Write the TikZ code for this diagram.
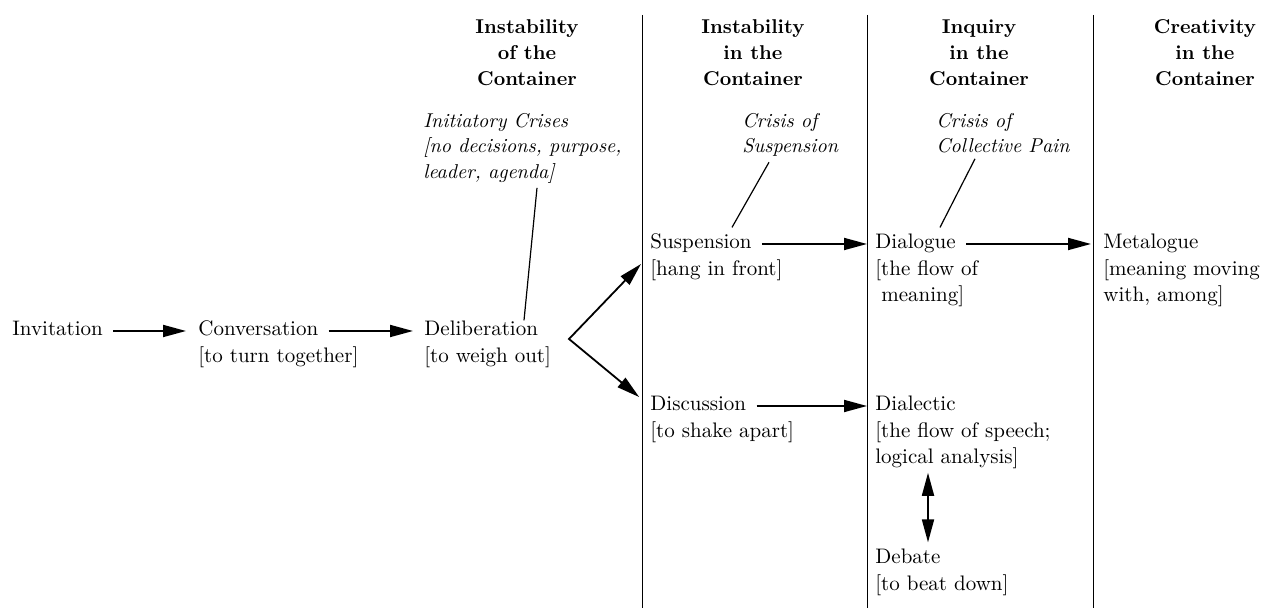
\documentclass[tikz,border=0pt]{standalone}
\usepackage{tikz}
\usetikzlibrary{arrows.meta,positioning}

\begin{document}
\begin{tikzpicture}[x=0.5pt,y=-0.5pt,
    word/.style={anchor=base west, inner sep=0pt, text height=7.6pt, text depth=2.6pt,
      font=\fontsize{10.5}{13}\selectfont},
    gloss/.style={anchor=north west, inner sep=0pt, align=left,
      font=\fontsize{10.5}{13}\selectfont},
    head/.style={anchor=north, inner sep=0pt, align=center,
      font=\fontsize{10}{13}\selectfont\bfseries},
    crisis/.style={anchor=north west, inner sep=0pt, align=left,
      font=\fontsize{10}{12.75}\selectfont\itshape},
    arr/.style={-{Triangle[length=11.5pt,width=6pt]}, line width=0.9pt,
      shorten <=5pt, shorten >=4pt},
    dbl/.style={{Triangle[length=11.5pt,width=6pt]}-{Triangle[length=11.5pt,width=6pt]},
      line width=0.9pt},
    pointer/.style={line width=0.6pt}]
  \useasboundingbox (0,0) rectangle (1270,613);

  % column rules
  \foreach \x in {642,867,1093}
    \draw[line width=0.5pt] (\x,15) -- (\x,608);

  % headings
  \node[head] (h1) at (527,19) {Instability\\of the\\Container};
  \node[head] (h2) at (753,19) {Instability\\in the\\Container};
  \node[head] (h3) at (979,19) {Inquiry\\in the\\Container};
  \node[head] (h4) at (1205,19) {Creativity\\in the\\Container};

  % crises
  \node[crisis] (cr1) at (423,113) {Initiatory Crises\\{}[no decisions, purpose,\\leader, agenda]};
  \node[crisis] (cr2) at (742,113) {Crisis of\\Suspension};
  \node[crisis] (cr3) at (936,113) {Crisis of\\Collective Pain};

  % stages
  \node[word] (inv) at (12,336) {Invitation};
  \node[word] (conv) at (198,336) {Conversation};
  \node[gloss, below=5pt of conv.base west, anchor=north west] (conv-g) {[to turn together]};
  \node[word] (delib) at (424,336) {Deliberation};
  \node[gloss, below=5pt of delib.base west, anchor=north west] (delib-g) {[to weigh out]};
  \node[word] (susp) at (650,249) {Suspension};
  \node[gloss, below=5pt of susp.base west, anchor=north west] (susp-g) {[hang in front]};
  \node[word] (disc) at (650,411) {Discussion};
  \node[gloss, below=5pt of disc.base west, anchor=north west] (disc-g) {[to shake apart]};
  \node[word] (dial) at (875,249) {Dialogue};
  \node[gloss, below=5pt of dial.base west, anchor=north west] (dial-g) {[the flow of\\\hspace{3pt}meaning]};
  \node[word] (dlec) at (875,411) {Dialectic};
  \node[gloss, below=5pt of dlec.base west, anchor=north west] (dlec-g) {[the flow of speech;\\logical analysis]};
  \node[word] (deb) at (875,564) {Debate};
  \node[gloss, below=5pt of deb.base west, anchor=north west] (deb-g) {[to beat down]};
  \node[word] (meta) at (1103,249) {Metalogue};
  \node[gloss, below=5pt of meta.base west, anchor=north west] (meta-g) {[meaning moving\\with, among]};

  % arrows
  \draw[arr, shorten >=6pt] (inv) -- (conv);
  \draw[arr, shorten >=5.5pt] (conv) -- (delib);
  \coordinate (fork) at (569,339);
  \draw[dbl, shorten <=6.5pt, shorten >=7pt] (susp.south west) -- (fork) -- (disc.west);
  \draw[arr] (susp) -- (dial);
  \draw[arr] (disc) -- (dlec);
  \draw[arr, shorten >=6pt] (dial) -- (meta);
  \draw[dbl, shorten <=2pt, shorten >=3pt] ([xshift=26.5pt]dlec-g.south west) -- ([xshift=26.5pt]deb.north west);

  % pointers
  \draw[pointer] ([xshift=57pt,yshift=-2pt]cr1.south west) -- ([xshift=50pt]delib.north west);
  \draw[pointer] ([xshift=13.5pt,yshift=-2.5pt]cr2.south west) -- ([xshift=41pt,yshift=3pt]susp.north west);
  \draw[pointer] ([xshift=19.5pt,yshift=-2.5pt]cr3.south west) -- ([xshift=32.5pt,yshift=3pt]dial.north west);
\end{tikzpicture}
\end{document}
